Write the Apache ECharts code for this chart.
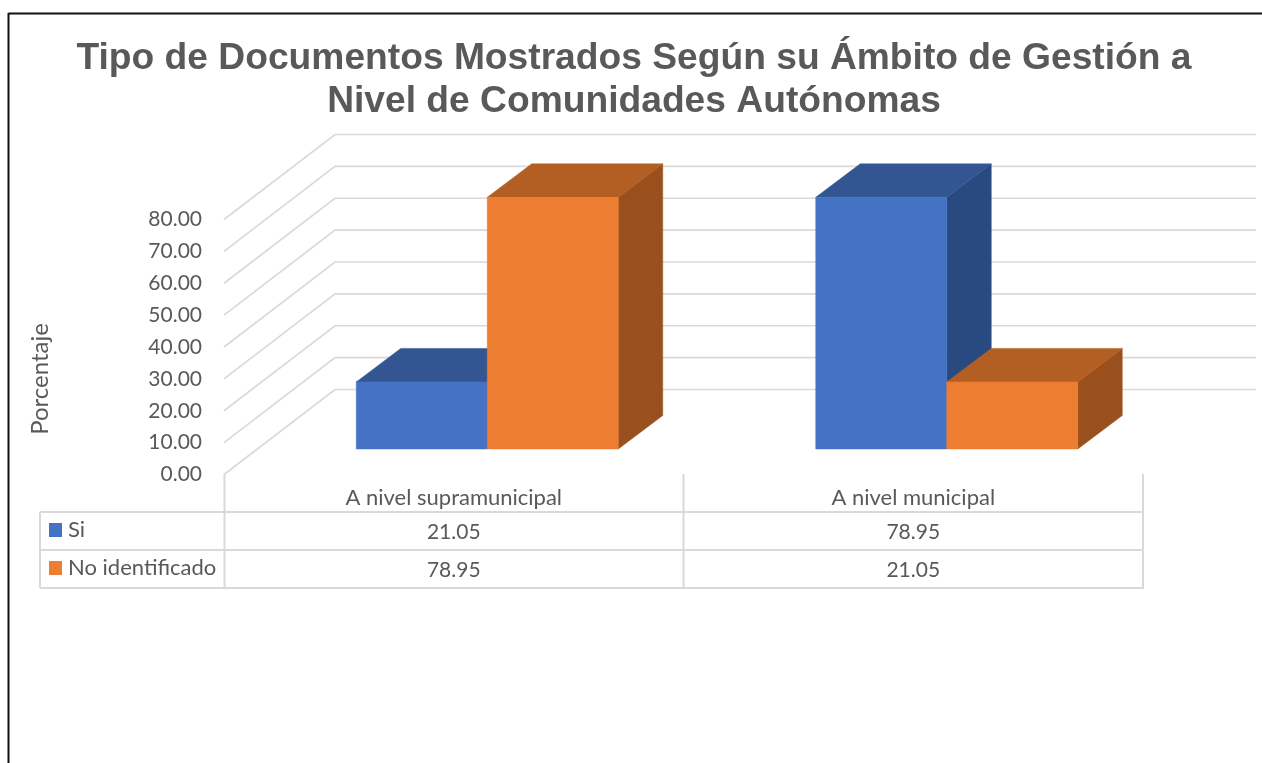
<!DOCTYPE html>
<html>
<head>
<meta charset="utf-8">
<style>html,body{margin:0;padding:0;background:#fff}#c{width:1262px;height:763px}</style>
<script src="https://cdn.jsdelivr.net/npm/echarts@6/dist/echarts.min.js"></script>
</head>
<body>
<div id="c"></div>
<script>
const titleText = 'Tipo de Documentos Mostrados Según su Ámbito de Gestión a\nNivel de Comunidades Autónomas';
const yAxisName = 'Porcentaje';
const categories = ['A nivel supramunicipal', 'A nivel municipal'];
const seriesNames = ['Si', 'No identificado'];
const siValues = [21.05, 78.95];
const noIdentificadoValues = [78.95, 21.05];
const ticks = [0, 10, 20, 30, 40, 50, 60, 70, 80];

const TEXT = '#595959', LINE = '#d9d9d9', FONT = 'Lato, "Open Sans", sans-serif', FS = 21;
const palettes = [
  { front: '#4472C4', top: '#335693', side: '#294A80' },
  { front: '#ED7D31', top: '#B35E22', side: '#99501C' }
];
const BAR_W = 131, SHIFT_X = 33.5, SHIFT_Y = 25.5, DEPTH_X = 44.5, DEPTH_Y = 33.5;
const WALL_X = 111, WALL_Y = 85, WALL_RIGHT = 1256;
const ROW_Y = [532, 570];

function poly(points, fill) {
  return { type: 'polygon', shape: { points }, style: { fill, stroke: fill, lineWidth: 0.5 } };
}
function barSeries(name, values, idx) {
  const pal = palettes[idx];
  return {
    type: 'custom', name, silent: true, z: 3 + idx,
    data: values.map((v, i) => [i, v]),
    encode: { x: 0, y: 1 },
    renderItem(params, api) {
      const top = api.coord([api.value(0), api.value(1)]);
      const base = api.coord([api.value(0), 0]);
      const cx = top[0] + SHIFT_X;
      const x0 = idx === 0 ? cx - BAR_W : cx, x1 = x0 + BAR_W;
      const yT = top[1] - SHIFT_Y, yB = base[1] - SHIFT_Y;
      return { type: 'group', children: [
        poly([[x1, yT], [x1 + DEPTH_X, yT - DEPTH_Y], [x1 + DEPTH_X, yB - DEPTH_Y], [x1, yB]], pal.side),
        poly([[x0, yT], [x0 + DEPTH_X, yT - DEPTH_Y], [x1 + DEPTH_X, yT - DEPTH_Y], [x1, yT]], pal.top),
        poly([[x0, yT], [x1, yT], [x1, yB], [x0, yB]], pal.front)
      ]};
    }
  };
}
const wallSeries = {
  type: 'custom', silent: true, z: 1,
  data: ticks.map(t => [0, t]),
  encode: { x: 0, y: 1 },
  renderItem(params, api) {
    const y = api.coord([0, api.value(1)])[1];
    const x = params.coordSys.x;
    return { type: 'polyline',
      shape: { points: [[x, y], [x + WALL_X, y - WALL_Y], [WALL_RIGHT, y - WALL_Y]] },
      style: { fill: 'none', stroke: LINE, lineWidth: 1.6 } };
  }
};
const tableRows = [siValues, noIdentificadoValues];
const tableSeries = {
  type: 'custom', silent: true, z: 5,
  data: tableRows.flatMap((row, r) => row.map((v, i) => [i, v, r])),
  encode: { x: 0, y: 1 },
  clip: false,
  renderItem(params, api) {
    const x = api.coord([api.value(0), 0])[0];
    return { type: 'text', style: {
      text: api.value(1).toFixed(2), x, y: ROW_Y[api.value(2)],
      textAlign: 'center', textVerticalAlign: 'middle',
      fontFamily: FONT, fontSize: FS, fill: TEXT } };
  }
};
const lineEl = (x1, y1, x2, y2, color, w) => ({
  type: 'line', shape: { x1, y1, x2, y2 }, silent: true,
  style: { stroke: color, lineWidth: w }
});
const tableLines = [
  lineEl(40, 512, 1143, 512, LINE, 2),
  lineEl(40, 550, 1143, 550, LINE, 2),
  lineEl(40, 588, 1143, 588, LINE, 2),
  lineEl(40, 512, 40, 588, LINE, 2),
  lineEl(224.5, 474, 224.5, 588, LINE, 2),
  lineEl(683.5, 474, 683.5, 588, LINE, 2),
  lineEl(1143, 474, 1143, 589, LINE, 2)
];
const legendEls = seriesNames.flatMap((n, i) => [
  { type: 'rect', shape: { x: 49, y: ROW_Y[i] - 9, width: 13, height: 14 }, silent: true, style: { fill: palettes[i].front } },
  { type: 'text', x: 68, y: ROW_Y[i] - 2, silent: true, style: { text: n, fontFamily: FONT, fontSize: 22, fill: TEXT, textVerticalAlign: 'middle' } }
]);

const chart = echarts.init(document.getElementById('c'), null, { renderer: 'canvas' });
chart.setOption({
  animation: false,
  backgroundColor: '#fff',
  title: {
    text: titleText, left: 629, top: 32, textAlign: 'center',
    textStyle: { fontFamily: '"Liberation Sans", Arial, sans-serif', fontWeight: 'bold', fontSize: 37.2, lineHeight: 43, color: TEXT }
  },
  grid: { left: 224, top: 219.5, width: 919, height: 255, containLabel: false },
  xAxis: {
    type: 'category', data: categories,
    axisLine: { show: false }, axisTick: { show: false }, splitLine: { show: false },
    axisLabel: { color: TEXT, fontFamily: FONT, fontSize: 22, margin: 12 }
  },
  yAxis: {
    type: 'value', min: 0, max: 80, interval: 10,
    axisLine: { show: false }, axisTick: { show: false }, splitLine: { show: false },
    axisLabel: { color: TEXT, fontFamily: FONT, fontSize: FS, margin: 22, padding: [6, 0, 0, 0], formatter: v => v.toFixed(2) }
  },
  graphic: { elements: [
    lineEl(8.5, 13.5, 1262, 13.5, '#111', 2),
    lineEl(8.5, 13, 8.5, 763, '#111', 2),
    ...tableLines,
    ...legendEls,
    { type: 'text', x: 40, y: 379, rotation: Math.PI / 2, silent: true,
      style: { text: yAxisName, fontFamily: FONT, fontSize: 24, fill: TEXT, textAlign: 'center', textVerticalAlign: 'middle' } }
  ]},
  series: [wallSeries, barSeries(seriesNames[0], siValues, 0), barSeries(seriesNames[1], noIdentificadoValues, 1), tableSeries]
});
</script>
</body>
</html>
